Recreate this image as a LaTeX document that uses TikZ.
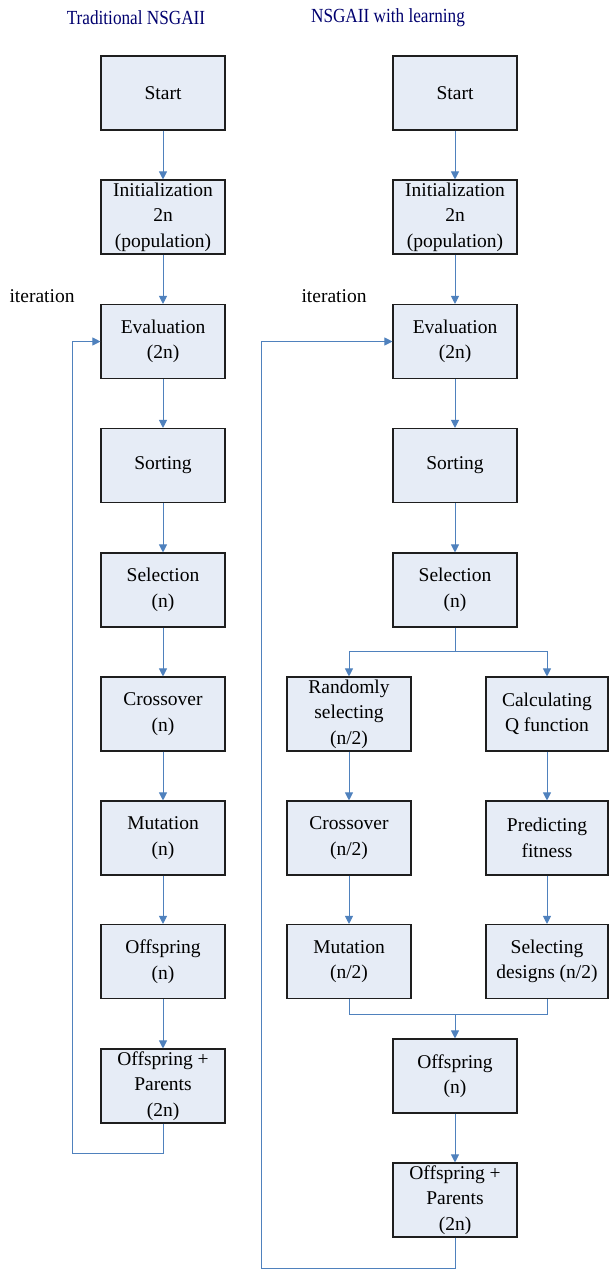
\documentclass[tikz,border=0pt]{standalone}
\usepackage{fontspec}
\usepackage{graphicx}
\setmainfont{Liberation Serif}
\usetikzlibrary{arrows.meta}
\definecolor{lineblue}{RGB}{79,129,189}
\definecolor{boxfill}{RGB}{230,236,246}
\definecolor{boxedge}{RGB}{30,30,30}
\definecolor{titleblue}{RGB}{0,0,110}
\tikzset{
  box/.style={draw=boxedge, line width=1.1pt, fill=boxfill, minimum width=124pt, minimum height=74pt,
    align=center, inner sep=1pt, font=\fontsize{19.5}{25.5}\selectfont},
  conn/.style={draw=lineblue, line width=1pt},
  arr/.style={conn, -{Triangle[length=8pt,width=8pt]}},
  ttl/.style={font=\fontsize{20}{24}\selectfont, text=titleblue},
  lbl/.style={font=\fontsize{19.5}{24}\selectfont},
}
\begin{document}
\begin{tikzpicture}[x=1pt,y=-1pt]
\useasboundingbox (0,0) rectangle (609,1269);
% titles
\node[ttl] (t1) at (136,18) {\scalebox{0.86}[1]{Traditional NSGAII}};
\node[ttl] (t2) at (388,18) {\scalebox{0.86}[1]{NSGAII with learning}};
\node[lbl] (it1) at (42,296) {iteration};
\node[lbl] (it2) at (334,296) {iteration};
% left column
\node[box] (ls) at (163,93) {Start};
\node[box] (li) at (163,217) {Initialization\\2n\\(population)};
\node[box] (le) at (163,341.5) {Evaluation\\(2n)};
\node[box] (lso) at (163,465.5) {Sorting};
\node[box] (lse) at (163,590) {Selection\\(n)};
\node[box] (lc) at (163,714) {Crossover\\(n)};
\node[box] (lm) at (163,838) {Mutation\\(n)};
\node[box] (lo) at (163,961.5) {Offspring\\(n)};
\node[box] (lop) at (163,1086) {Offspring +\\Parents\\(2n)};
% right column
\node[box] (rs) at (455,93) {Start};
\node[box] (ri) at (455,217) {Initialization\\2n\\(population)};
\node[box] (re) at (455,341.5) {Evaluation\\(2n)};
\node[box] (rso) at (455,465.5) {Sorting};
\node[box] (rse) at (455,590) {Selection\\(n)};
\node[box] (rr) at (349,714) {Randomly\\selecting\\(n/2)};
\node[box] (rc) at (349,838) {Crossover\\(n/2)};
\node[box] (rm) at (349,961.5) {Mutation\\(n/2)};
\node[box, minimum width=122pt] (qf) at (547,714) {Calculating\\Q function};
\node[box, minimum width=122pt] (pf) at (547,838) {Predicting\\fitness};
\node[box, minimum width=122pt] (sd) at (547,961.5) {Selecting\\designs (n/2)};
\node[box] (ro) at (455,1076) {Offspring\\(n)};
\node[box] (rop) at (455,1200) {Offspring +\\Parents\\(2n)};
% left connectors
\draw[arr] (ls) -- (li);
\draw[arr] (li) -- (le);
\draw[arr] (le) -- (lso);
\draw[arr] (lso) -- (lse);
\draw[arr] (lse) -- (lc);
\draw[arr] (lc) -- (lm);
\draw[arr] (lm) -- (lo);
\draw[arr] (lo) -- (lop);
\coordinate (lloop) at (72,1153);
\draw[arr] (lop.south) |- (lloop) |- (le.west);
% right connectors
\draw[arr] (rs) -- (ri);
\draw[arr] (ri) -- (re);
\draw[arr] (re) -- (rso);
\draw[arr] (rso) -- (rse);
\coordinate (split) at (455,651);
\draw[conn] (rse.south) -- (split);
\draw[arr] (split) -| (rr.north);
\draw[arr] (split) -| (qf.north);
\draw[arr] (rr) -- (rc);
\draw[arr] (rc) -- (rm);
\draw[arr] (qf) -- (pf);
\draw[arr] (pf) -- (sd);
\coordinate (merge) at (455,1014);
\draw[conn] (rm.south) |- (merge);
\draw[conn] (sd.south) |- (merge);
\draw[arr] (merge) -- (ro.north);
\draw[arr] (ro) -- (rop);
\coordinate (rloop) at (261,1268);
\draw[arr] (rop.south) |- (rloop) |- (re.west);
\end{tikzpicture}
\end{document}
